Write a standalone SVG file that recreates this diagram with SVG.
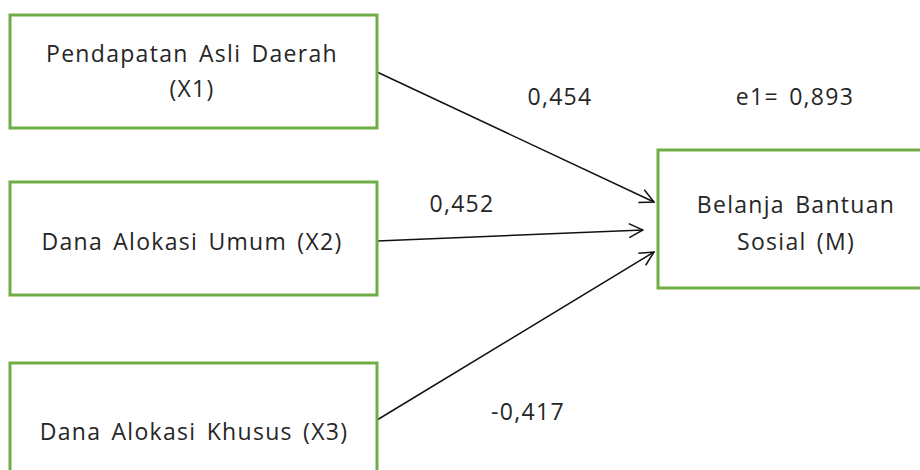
<svg xmlns="http://www.w3.org/2000/svg" width="920" height="470" viewBox="0 0 920 470">
<defs>
<style>
.box{fill:#fff;stroke:#70AD47;stroke-width:3}
.t{font-family:"Open Sans","Noto Sans","DejaVu Sans",sans-serif;font-size:23px;fill:#262626;text-anchor:middle;letter-spacing:1.3px;word-spacing:3px}
.c{stroke:#111;stroke-width:1.5;fill:none;marker-end:url(#ah)}
</style>
<marker id="ah" viewBox="0 0 16 16" refX="15" refY="8" markerWidth="16" markerHeight="16" markerUnits="userSpaceOnUse" orient="auto">
<path d="M1,1 L15,8 L1,15" fill="none" stroke="#111" stroke-width="1.5"/>
</marker>
</defs>
<rect width="920" height="470" fill="#fff"/>
<g id="connectors">
<line class="c" x1="377" y1="72" x2="654" y2="202"/>
<line class="c" x1="377" y1="241" x2="643" y2="230"/>
<line class="c" x1="377" y1="420" x2="654" y2="252"/>
</g>
<g id="x1">
<rect class="box" x="10" y="15" width="367" height="113"/>
<text class="t" x="192" y="62">Pendapatan Asli Daerah</text>
<text class="t" x="192" y="97">(X1)</text>
</g>
<g id="x2">
<rect class="box" x="10" y="182" width="367" height="113"/>
<text class="t" x="192" y="250">Dana Alokasi Umum (X2)</text>
</g>
<g id="x3">
<rect class="box" x="10" y="363" width="367" height="120"/>
<text class="t" x="194" y="440">Dana Alokasi Khusus (X3)</text>
</g>
<g id="m">
<rect class="box" x="658" y="150" width="280" height="138"/>
<text class="t" x="796" y="213">Belanja Bantuan</text>
<text class="t" x="796" y="250">Sosial (M)</text>
</g>
<g id="labels">
<text class="t" x="560" y="105">0,454</text>
<text class="t" x="462" y="212">0,452</text>
<text class="t" x="528" y="420">-0,417</text>
<text class="t" x="795" y="105">e1= 0,893</text>
</g>
</svg>
